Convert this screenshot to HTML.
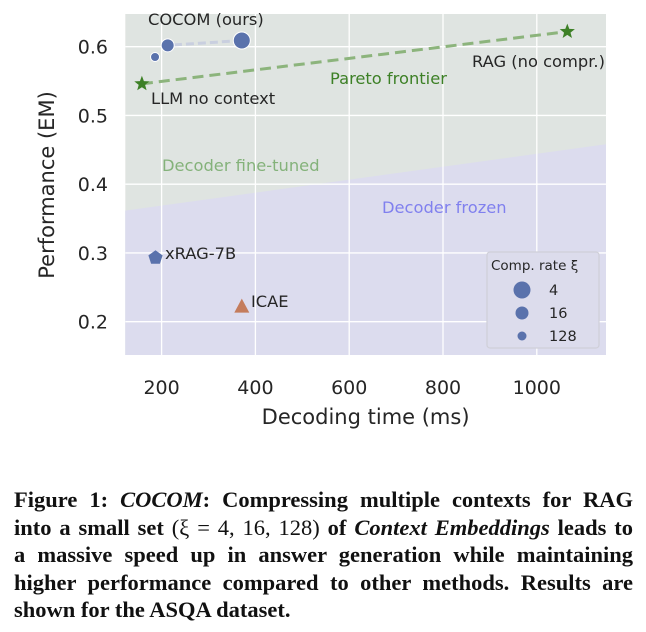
<!DOCTYPE html>
<html><head><meta charset="utf-8"><style>
body{margin:0;background:#fff;width:646px;height:632px;overflow:hidden;position:relative;font-family:"DejaVu Sans","Liberation Sans",sans-serif}
#cap{position:absolute;left:14px;top:486px;width:619px;font-family:"Liberation Serif",serif;font-weight:bold;font-size:22.5px;letter-spacing:0px;line-height:27.6px;color:#111}
#cap div{text-align:justify;text-align-last:justify;white-space:nowrap}
#cap div.last{text-align-last:left}
.n{font-weight:normal}
</style></head><body>
<svg id="chart" width="646" height="470" style="position:absolute;left:0;top:0"></svg>
<div id="cap">
<div>Figure 1: <i>COCOM</i>: Compressing multiple contexts for RAG</div>
<div>into a small set <span class="n">(ξ = 4, 16, 128)</span> of <i>Context Embeddings</i> leads to</div>
<div>a massive speed up in answer generation while maintaining</div>
<div>higher performance compared to other methods. Results are</div>
<div class="last">shown for the ASQA dataset.</div>
</div>
<script>
const xTicks=[200,400,600,800,1000];
const yTicks=[0.2,0.3,0.4,0.5,0.6];
const cocomX=[371,213,186];
const cocomY=[0.609,0.602,0.585];
const cocomRates=["4","16","128"];
const cocomR=[8.5,6.5,4.5];
const starNames=["LLM no context","RAG (no compr.)"];
const starX=[158,1065];
const starY=[0.546,0.622];
const xragX=[187], xragY=[0.293];
const icaeX=[371], icaeY=[0.222];
const boundX=[122,1202,1300];
const boundY=[0.3615,0.4633,0.4633];

const NS="http://www.w3.org/2000/svg";
const svg=document.getElementById('chart');
const L=125.2,R=606,T=14,B=355;
const xs=v=>161.6+(v-200)*0.469;
const ys=v=>46.7-(v-0.6)*687.5;
function mk(tag,at,parent){const e=document.createElementNS(NS,tag);for(const k in at)e.setAttribute(k,at[k]);(parent||svg).appendChild(e);return e;}
const defs=mk('defs',{});
const cp=mk('clipPath',{id:'cp'},defs);mk('rect',{x:L,y:T,width:R-L,height:B-T},cp);
const g=mk('g',{'clip-path':'url(#cp)'});
let r=mk('rect',{x:L,y:T,width:R-L,height:B-T,fill:'#dfe4e1'},g);


let pts=boundX.map((v,i)=>xs(v)+','+ys(boundY[i])).join(' ');
let poly=mk('polygon',{points:pts+' '+xs(1300)+','+(B+5)+' '+xs(122)+','+(B+5),fill:'#dcdcee'},g);


xTicks.forEach(v=>{let l=mk('line',{x1:xs(v),x2:xs(v),y1:T,y2:B,stroke:'#fff','stroke-width':1.3},g);

});
yTicks.forEach(v=>{let l=mk('line',{x1:L,x2:R,y1:ys(v),y2:ys(v),stroke:'#fff','stroke-width':1.3},g);

});
function txt(s,x,y,at,name){const t=mk('text',Object.assign({x:x,y:y,'font-family':'DejaVu Sans, sans-serif'},at));t.textContent=s;

return t;}
xTicks.forEach(v=>txt(String(v),xs(v),394,{'font-size':19,'text-anchor':'middle',fill:'#262626'},'x-tick-label'));
yTicks.forEach(v=>txt(v.toFixed(1),108,ys(v)+7,{'font-size':19,'text-anchor':'end',fill:'#262626'},'y-tick-label'));
txt('Decoding time (ms)',(L+R)/2,424,{'font-size':21,'text-anchor':'middle',fill:'#262626'},'x-axis-title');
txt('Performance (EM)',0,0,{'font-size':21,'text-anchor':'middle',fill:'#262626',transform:'translate(54,185) rotate(-90)'},'y-axis-title');
let pl=mk('line',{x1:xs(starX[0]),y1:ys(starY[0]),x2:xs(starX[1]),y2:ys(starY[1]),stroke:'#8cb47c','stroke-width':3,'stroke-dasharray':'11,6'});


let cl=mk('polyline',{points:cocomX.slice(0,2).map((v,i)=>xs(v)+','+ys(cocomY[i])).join(' '),fill:'none',stroke:'#c9cfdf','stroke-width':3,'stroke-dasharray':'8,4'});


cocomX.forEach((v,i)=>{let c=mk('circle',{cx:xs(v),cy:ys(cocomY[i]),r:cocomR[i],fill:'#5a72ac',stroke:'#fff','stroke-width':1});

});
function star(cx,cy,R1){let p=[];for(let k=0;k<10;k++){let a=-Math.PI/2+k*Math.PI/5,rr=k%2?R1*0.42:R1;p.push((cx+rr*Math.cos(a)).toFixed(1)+','+(cy+rr*Math.sin(a)).toFixed(1));}return p.join(' ');}
starX.forEach((v,i)=>{let s=mk('polygon',{points:star(xs(v),ys(starY[i]),8),fill:'#3d8026'});

});
xragX.forEach((v,i)=>{let p=[];for(let k=0;k<5;k++){let a=-Math.PI/2+k*2*Math.PI/5;p.push((xs(v)+7.5*Math.cos(a)).toFixed(1)+','+(ys(xragY[i])+7.5*Math.sin(a)).toFixed(1));}
let s=mk('polygon',{points:p.join(' '),fill:'#5a72ac'});

});
icaeX.forEach((v,i)=>{let cx=xs(v),cy=ys(icaeY[i]);let s=mk('polygon',{points:`${cx},${cy-8} ${cx+7.5},${cy+6} ${cx-7.5},${cy+6}`,fill:'#c47c5c'});

});
const A={'font-size':16.3,fill:'#262626'};
txt('COCOM (ours)',148,25,A,'cocom-label');
txt('LLM no context',151,104,A,'llm-no-context-label');
txt('RAG (no compr.)',472,67,A,'rag-label');
txt('Pareto frontier',330,84,{'font-size':16.3,fill:'#3d8026'},'pareto-label');
txt('Decoder fine-tuned',162,171,{'font-size':16.3,fill:'#84b27a'},'decoder-fine-tuned-label');
txt('Decoder frozen',382,213,{'font-size':16.3,fill:'#8080ee'},'decoder-frozen-label');
txt('xRAG-7B',165,259,A,'xrag-label');
txt('ICAE',251,307,A,'icae-label');
const lg=mk('g',{});


mk('rect',{x:487,y:252,width:112,height:96,rx:3,fill:'#dcdcec',stroke:'#cfcfd8','stroke-width':1.2},lg);
txt('Comp. rate ξ',491,270,{'font-size':13.5,fill:'#262626'},'legend-title');
cocomRates.forEach((s,i)=>{let y=290+i*23;let c=mk('circle',{cx:522,cy:y,r:cocomR[i],fill:'#5a72ac'},lg);


txt(s,549,y+5,{'font-size':14.5,fill:'#262626'},'legend-entry');});
</script>
</body></html>
